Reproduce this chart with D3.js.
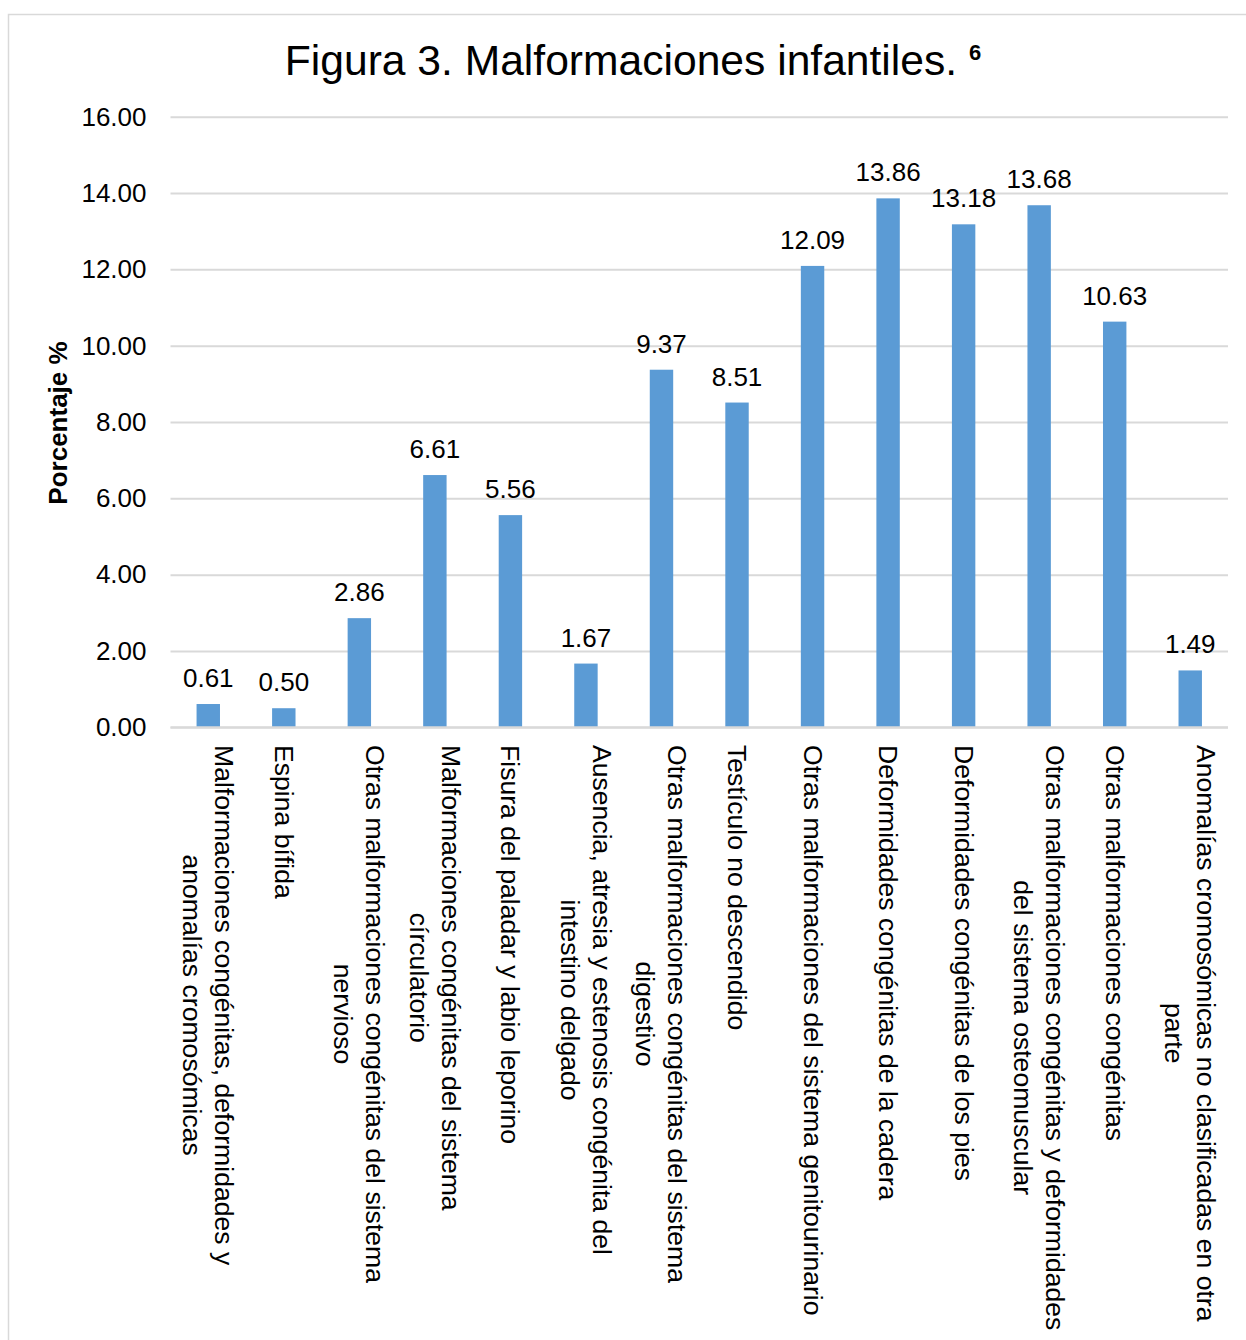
<!DOCTYPE html>
<html><head><meta charset="utf-8">
<script src="https://cdn.jsdelivr.net/npm/d3@7"></script>
<style>body{margin:0;background:#fff}svg{display:block;font-family:"Liberation Sans",Arial,sans-serif}</style>
</head><body>
<script>
const categories = [
  ["Malformaciones congénitas, deformidades y", "anomalías cromosómicas"],
  ["Espina bífida"],
  ["Otras malformaciones congénitas del sistema", "nervioso"],
  ["Malformaciones congénitas del sistema", "círculatorio"],
  ["Fisura del paladar y labio leporino"],
  ["Ausencia, atresia y estenosis congénita del", "intestino delgado"],
  ["Otras malformaciones congénitas del sistema", "digestivo"],
  ["Testículo no descendido"],
  ["Otras malformaciones del sistema genitourinario"],
  ["Deformidades congénitas de la cadera"],
  ["Deformidades congénitas de los pies"],
  ["Otras malformaciones congénitas y deformidades", "del sistema osteomuscular"],
  ["Otras malformaciones congénitas"],
  ["Anomalías cromosómicas no clasificadas en otra", "parte"]
];
const values = [0.61, 0.50, 2.86, 6.61, 5.56, 1.67, 9.37, 8.51, 12.09, 13.86, 13.18, 13.68, 10.63, 1.49];
const yTicks = [0, 2, 4, 6, 8, 10, 12, 14, 16];
const titleText = "Figura 3. Malformaciones infantiles. ";
const titleSup = "6";
const yTitle = "Porcentaje %";

const W = 1246, H = 1340;
const svg = d3.select("body").append("svg").attr("width", W).attr("height", H);
svg.append("rect").attr("x", 8.5).attr("y", 14.5).attr("width", 1400).attr("height", 1500)
  .attr("fill", "#fff").attr("stroke", "#d9d9d9").attr("stroke-width", 1.5);

const x = d3.scaleBand().domain(d3.range(categories.length)).range([170.5, 1228]).padding(0);
const y = d3.scaleLinear().domain([0, 16]).range([727.3, 116.7]);
const barW = x.bandwidth() * 0.31;

// gridlines + tick labels via axis
const yAxis = d3.axisLeft(y).tickValues(yTicks).tickFormat(d3.format(".2f")).tickSize(-(1228 - 170.5)).tickPadding(24);
const ga = svg.append("g").attr("transform", "translate(170.5,0)").call(yAxis);
ga.select(".domain").remove();
ga.selectAll(".tick line").attr("stroke", "#d9d9d9").attr("stroke-width", 2);
ga.selectAll(".tick text").attr("fill", "#000").attr("font-size", 26).attr("font-family", '"Liberation Sans",Arial,sans-serif');

// bars
svg.selectAll(".bar").data(values).join("rect").attr("class", "bar")
  .attr("x", (d, i) => x(i) + x.bandwidth() / 2 - barW / 2)
  .attr("y", d => y(d)).attr("width", barW).attr("height", d => y(0) - y(d))
  .attr("fill", "#5b9bd5");

// baseline
svg.append("line").attr("x1", 170.5).attr("x2", 1228).attr("y1", y(0)).attr("y2", y(0))
  .attr("stroke", "#d9d9d9").attr("stroke-width", 2);

// data labels
svg.selectAll(".dl").data(values).join("text").attr("class", "dl")
  .attr("x", (d, i) => x(i) + x.bandwidth() / 2).attr("y", d => y(d) - 17)
  .attr("text-anchor", "middle").attr("font-size", 26).attr("fill", "#000")
  .text(d => d.toFixed(2));

// category labels rotated 90deg
const lh = 32;
categories.forEach((lines, i) => {
  const cx = x(i) + x.bandwidth() / 2;
  const g = svg.append("g").attr("transform", `translate(${cx},745) rotate(90)`);
  const ts = lines.map((l, j) => g.append("text")
    .attr("y", (j - (lines.length - 1) / 2) * lh + 9)
    .attr("font-size", 26.6).attr("fill", "#000").attr("text-anchor", "middle").text(l));
  const maxW = d3.max(ts, t => t.node().getComputedTextLength());
  ts.forEach(t => t.attr("x", maxW / 2));
});

// y axis title
svg.append("text").attr("transform", "translate(67,423) rotate(-90)")
  .attr("text-anchor", "middle").attr("font-size", 26).attr("font-weight", "bold")
  .attr("fill", "#000").text(yTitle);

// title
const t = svg.append("text").attr("x", 633).attr("y", 75).attr("text-anchor", "middle")
  .attr("font-size", 42.6).attr("fill", "#000");
t.append("tspan").text(titleText);
t.append("tspan").attr("font-size", 22).attr("font-weight", "bold").attr("dy", -15).text(titleSup);
</script>
</body></html>
